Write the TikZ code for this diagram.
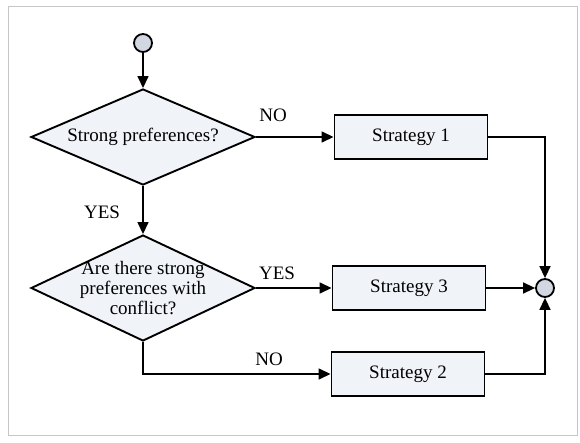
\documentclass[tikz,border=0pt]{standalone}
\usepackage{fontspec}
\setmainfont{Liberation Serif}
\usetikzlibrary{shapes.geometric,arrows.meta}
\definecolor{boxfill}{HTML}{F0F3F8}
\definecolor{dotfill}{HTML}{D3D7E2}

\begin{document}
\begin{tikzpicture}[x=1pt,y=1pt,
  every node/.style={font=\fontsize{19}{20}\selectfont},
  decision/.style={diamond,draw,line width=1.9pt,fill=boxfill,minimum width=224pt,minimum height=96pt,inner sep=0pt},
  strat/.style={rectangle,draw,line width=1.9pt,fill=boxfill,minimum width=153pt,minimum height=44pt},
  junction/.style={circle,draw,line width=1.8pt,fill=dotfill,minimum size=18pt,inner sep=0pt},
  flow/.style={line width=1.5pt,-{Triangle[length=12pt,width=11pt]}}]
\useasboundingbox (0,0) rectangle (580,442);
\draw[gray!45,line width=1pt] (8,7) rectangle (577,435);
% nodes
\node[junction] (start) at (143,399) {};
\node[decision] (q1) at (143,305) {};
\node at (q1) {Strong preferences?};
\node[decision,minimum height=106pt] (q2) at (143,154) {};
\node[align=center] at (q2) {Are there strong\\preferences with\\conflict?};
\node[strat] (s1) at (411,305) {Strategy 1};
\node[strat] (s3) at (409,154) {Strategy 3};
\node[strat] (s2) at (408,68) {Strategy 2};
\node[junction] (merge) at (545,154) {};
% connectors
\draw[flow] (start) -- (q1);
\draw[flow] (q1) -- (q2);
\draw[flow] (q1.east) -- (s1.west);
\draw[flow] (q2.east) -- (s3.west);
\draw[flow] (q2.south) |- (s2.west);
\draw[flow] (s1.east) -| (merge.north);
\draw[flow] (s3.east) -- (merge.west);
\draw[flow] (s2.east) -| (merge.south);
% labels
\node at (273,327) {NO};
\node at (102,230) {YES};
\node at (277,169) {YES};
\node at (269,83) {NO};
\end{tikzpicture}
\end{document}
